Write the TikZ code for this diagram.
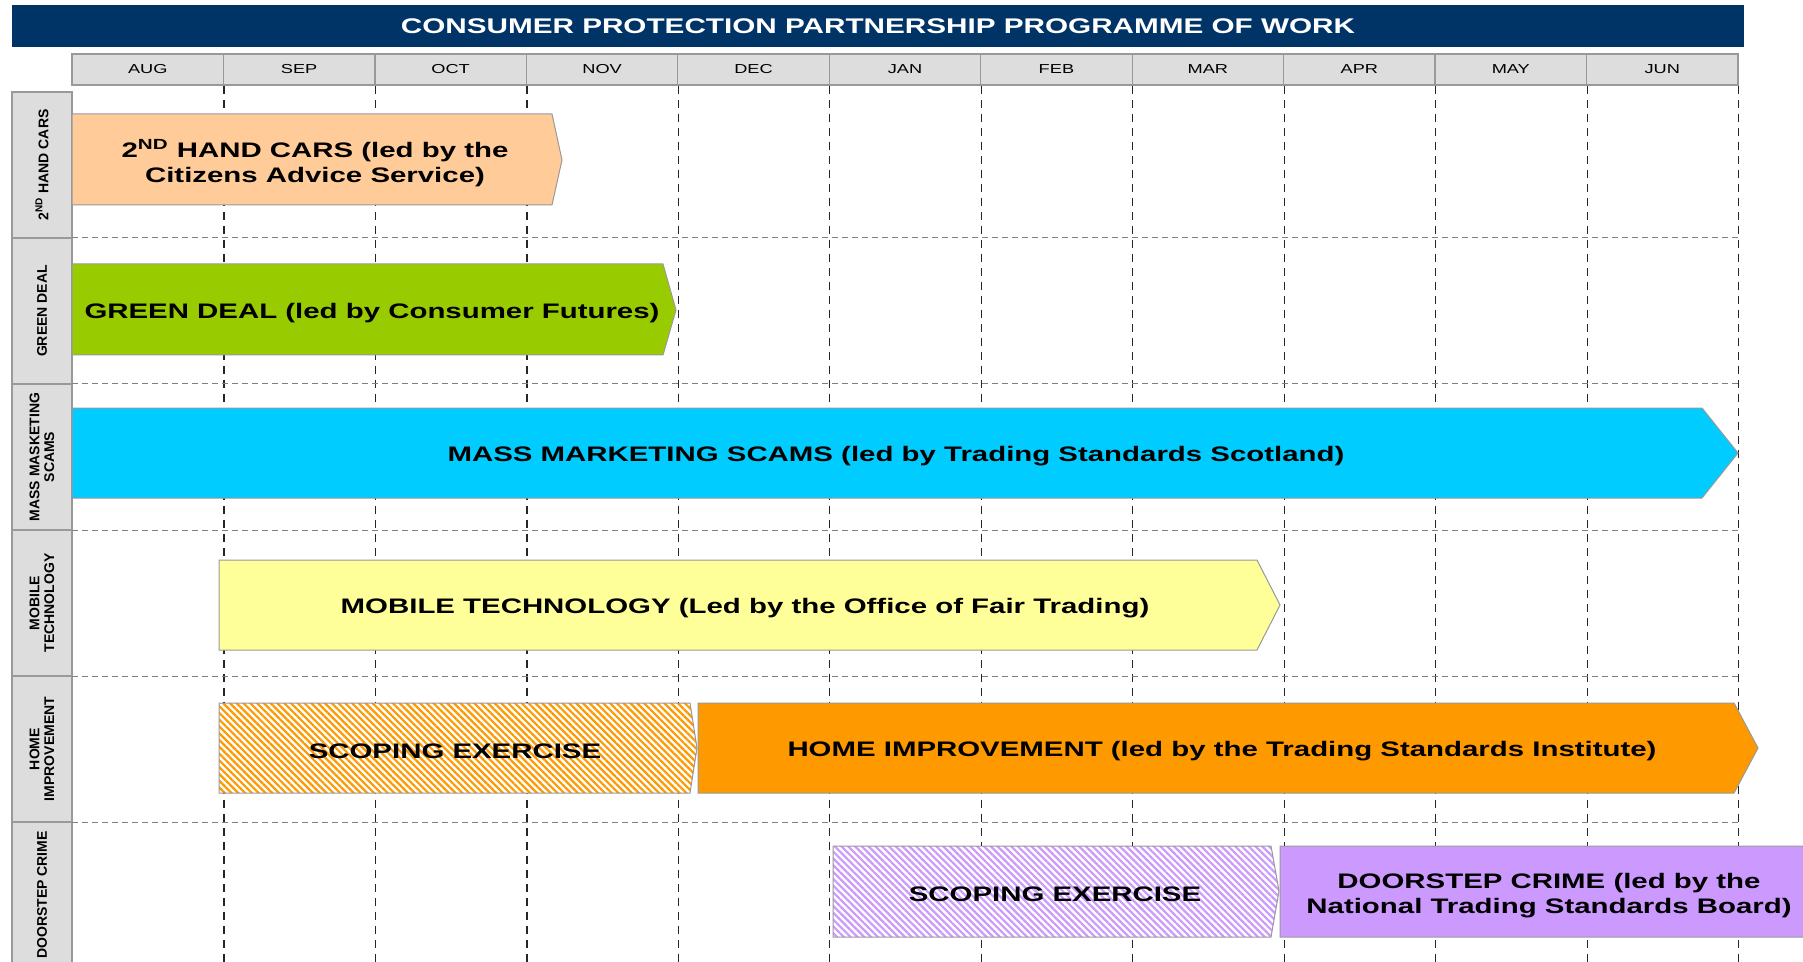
\documentclass[tikz,border=0pt]{standalone}
\usepackage{fontspec}
\setmainfont{Liberation Sans}
\newfontfamily\wide[FakeStretch=1.4]{Liberation Sans}
\usetikzlibrary{patterns.meta}

\definecolor{navy}{HTML}{003366}
\definecolor{cellgrey}{HTML}{DDDDDD}
\definecolor{edgegrey}{HTML}{999999}
\definecolor{cars}{HTML}{FFCC99}
\definecolor{deal}{HTML}{99CC00}
\definecolor{scams}{HTML}{00CCFF}
\definecolor{mobile}{HTML}{FFFF99}
\definecolor{home}{HTML}{FF9900}
\definecolor{doorstep}{HTML}{CC99FF}

\tikzset{
  month/.style={draw=edgegrey, fill=cellgrey, line width=0.6pt, inner sep=0pt,
    minimum width=75.73pt, minimum height=15.5pt,
    font=\wide\fontsize{6.5}{7}\selectfont},
  lane/.style={draw=edgegrey, fill=cellgrey, line width=0.8pt, rotate=90, inner sep=0pt,
    minimum width=73pt, minimum height=30pt, align=center,
    font=\bfseries\fontsize{7}{7.4}\selectfont},
  bar/.style={draw=edgegrey, line width=0.5pt},
  hatch/.style={bar, preaction={fill=white},
    pattern={Lines[angle=-45,distance=2.4pt,line width=1.1pt]}, pattern color=#1},
  tasktext/.style={font=\wide\bfseries\fontsize{10.5}{12.6}\selectfont, align=center, yshift=-1.7pt},
  vgrid/.style={draw=black!85, dash pattern=on 4pt off 3pt, line width=0.6pt},
  hgrid/.style={draw=black!50, dash pattern=on 3pt off 2pt, line width=0.5pt}
}

\begin{document}
\begin{tikzpicture}[x=0.5pt, y=-0.5pt]
  \useasboundingbox (0,0) rectangle (1803,962);

  \node[fill=navy, text=white, minimum width=866pt, minimum height=21pt,
    font=\wide\bfseries\fontsize{10.6}{13}\selectfont] (title) at (878,26)
    {CONSUMER PROTECTION PARTNERSHIP PROGRAMME OF WORK};

  % months and their grid lines
  \foreach \m [count=\i] in {AUG,SEP,OCT,NOV,DEC,JAN,FEB,MAR,APR,MAY,JUN}
    \node[month] (m\i) at ({72+151.45*(\i-0.5)},69.5) {\m};
  \foreach \i in {1,...,11}
    \draw[vgrid] (m\i.south east) -- ++(0,880);

  % swim lanes
  \foreach \t [count=\i] in {{2\textsuperscript{ND} HAND CARS}, {GREEN DEAL},
      {MASS MASKETING\\SCAMS}, {MOBILE\\TECHNOLOGY}, {HOME\\IMPROVEMENT}, {DOORSTEP CRIME}}
    \node[lane] (r\i) at (42,{92+146*(\i-0.5)}) {\t};
  \foreach \i in {1,...,5}
    \draw[hgrid] (72,{92+146*\i}) -- (1738,{92+146*\i});

  \draw[bar, fill=cars] (72,114) -- (552,114) -- (562,160) -- (552,205) -- (72,205) -- cycle;
  \node[tasktext] (cars) at (315,160) {2\textsuperscript{ND} HAND CARS (led by the\\Citizens Advice Service)};

  \draw[bar, fill=deal] (72,264) -- (663,264) -- (676,310) -- (663,355) -- (72,355) -- cycle;
  \node[tasktext] (deal) at (372,310) {GREEN DEAL (led by Consumer Futures)};

  \draw[bar, fill=scams] (72,408) -- (1702,408) -- (1738,453) -- (1702,498) -- (72,498) -- cycle;
  \node[tasktext] (scams) at (896,453) {MASS MARKETING SCAMS (led by Trading Standards Scotland)};

  \draw[bar, fill=mobile] (219,560) -- (1257,560) -- (1280,605) -- (1257,650) -- (219,650) -- cycle;
  \node[tasktext] (mobile) at (745,605) {MOBILE TECHNOLOGY (Led by the Office of Fair Trading)};

  \draw[hatch=home] (219,703) -- (690,703) -- (697,748) -- (690,793) -- (219,793) -- cycle;
  \node[tasktext] (scope1) at (455,748) {SCOPING EXERCISE};
  \draw[bar, fill=home] (698,703) -- (1734,703) -- (1758,748) -- (1734,793) -- (698,793) -- cycle;
  \node[tasktext] (home) at (1222,748) {HOME IMPROVEMENT (led by the Trading Standards Institute)};

  \draw[hatch=doorstep] (833,846) -- (1271,846) -- (1279,891) -- (1271,937) -- (833,937) -- cycle;
  \node[tasktext] (scope2) at (1055,891) {SCOPING EXERCISE};
  \draw[bar, fill=doorstep] (1280,846) -- (1820,846) -- (1835,891) -- (1820,937) -- (1280,937) -- cycle;
  \node[tasktext] (crime) at (1549,892) {DOORSTEP CRIME (led by the\\National Trading Standards Board)};
\end{tikzpicture}
\end{document}
